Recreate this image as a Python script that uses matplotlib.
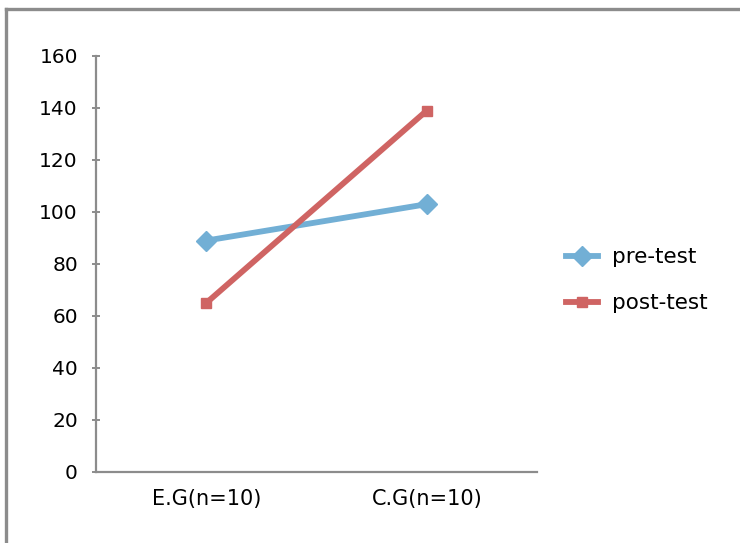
import matplotlib.pyplot as plt
from matplotlib.lines import Line2D

plt.rcParams['font.family'] = ['DejaVu Sans']

groups = ['E.G(n=10)', 'C.G(n=10)']
pre_test = [89, 103]
post_test = [65, 139]
y_ticks = [0, 20, 40, 60, 80, 100, 120, 140, 160]

blue = '#72AFD5'
red = '#CF6463'
grey = '#8C8C8C'

fig = plt.figure(figsize=(7.4, 5.43), dpi=100)
ax = fig.add_axes([0.1297, 0.1308, 0.5960, 0.7661])

x = range(len(groups))
ax.plot(x, pre_test, color=blue, linewidth=4.2, marker='D', markersize=10,
        label='pre-test')
ax.plot(x, post_test, color=red, linewidth=4.2, marker='s', markersize=7,
        label='post-test')

ax.set_xlim(-0.5, 1.5)
ax.set_ylim(0, 160)
ax.set_xticks(list(x))
ax.set_xticklabels(groups)
ax.set_yticks(y_ticks)

for side in ('top', 'right'):
    ax.spines[side].set_visible(False)
for side in ('left', 'bottom'):
    ax.spines[side].set_color(grey)
    ax.spines[side].set_linewidth(1.6)

ax.tick_params(axis='y', direction='inout', length=6, width=1.4, color=grey,
               pad=10, labelsize=14.5)
ax.tick_params(axis='x', length=0, pad=12, labelsize=15)

ax.legend(loc='center left', bbox_to_anchor=(0.765, 0.484),
          bbox_transform=fig.transFigure, frameon=False, fontsize=15.5,
          borderpad=0, borderaxespad=0,
          handlelength=1.5, labelspacing=1.2, handletextpad=0.65)

# partial frame around the chart area
fig.add_artist(Line2D([0.0085, 1.0], [0.9835, 0.9835], color=grey,
                      linewidth=2.4, transform=fig.transFigure))
fig.add_artist(Line2D([0.0085, 0.0085], [0.0, 0.9835], color=grey,
                      linewidth=2.4, transform=fig.transFigure))

fig.savefig('out.png', dpi=100)
